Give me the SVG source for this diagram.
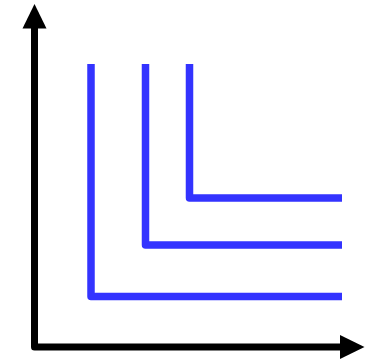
<svg xmlns="http://www.w3.org/2000/svg" width="378" height="361" viewBox="0 0 378 361">
<style>
.axis{fill:none;stroke:#000;stroke-width:7;stroke-linejoin:round}
.ah{fill:#000;stroke:none}
.el{fill:none;stroke:#3333ff;stroke-width:7.5;stroke-linejoin:round;stroke-linecap:butt}
</style>
<rect width="378" height="361" fill="#fff"/>
<g id="axes">
<path class="axis" d="M34.5,28 L34.5,347 L340,347"/>
<polygon class="ah" points="34.5,4 22.5,28.5 46.5,28.5"/>
<polygon class="ah" points="364.5,347 340,335 340,359"/>
</g>
<g id="curves">
<path id="c1" class="el" d="M91,64 L91,296.5 L342,296.5"/>
<path id="c2" class="el" d="M145.5,64 L145.5,245 L342,245"/>
<path id="c3" class="el" d="M189.5,64 L189.5,198 L342,198"/>
</g>
</svg>
